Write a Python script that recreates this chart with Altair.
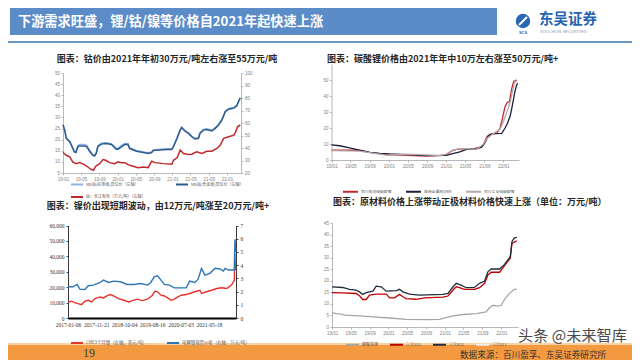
import altair as alt
import pandas as pd

W, H = 624, 352
SANS = "Liberation Sans"
CJK = "Noto Sans CJK SC"
SERIF = "Liberation Serif"

# ---------------- texts ----------------
HEADER = "下游需求旺盛，锂/钴/镍等价格自2021年起快速上涨"
LOGO_CN = "东吴证券"
LOGO_EN = "SOOCHOW SECURITIES"
TITLE_1 = "图表：钴价由2021年年初30万元/吨左右涨至55万元/吨"
TITLE_2 = "图表：碳酸锂价格由2021年年中10万左右涨至50万元/吨+"
TITLE_3 = "图表：镍价出现短期波动，由12万元/吨涨至20万元/吨+"
TITLE_4 = "图表：原材料价格上涨带动正极材料价格快速上涨（单位：万元/吨）"
PAGE_NO = "19"
SOURCE = "数据来源：百川盈孚、东吴证券研究所"
WATERMARK = "头条 @未来智库"

# ---------------- panel 1: cobalt ----------------
P1_NAMES = ["MB钴(标准级)高位价（左轴）", "MB钴(合金级)高位价（左轴）", "钴：长江有色（万元/吨）（右轴）"]
P1_COLORS = ["#8fb4e3", "#2f5a8e", "#c0282d"]
mb_dates = ["2019-01-01", "2019-01-12", "2019-01-23", "2019-02-15", "2019-02-26", "2019-03-18", "2019-03-29",
            "2019-04-10", "2019-04-21", "2019-05-24", "2019-06-10", "2019-06-27", "2019-07-19", "2019-07-31",
            "2019-08-11", "2019-08-22", "2019-09-14", "2019-10-17", "2019-11-20", "2019-12-23", "2020-01-04",
            "2020-01-26", "2020-02-18", "2020-03-10", "2020-03-21", "2020-05-06", "2020-06-20", "2020-07-23",
            "2020-08-15", "2020-08-26", "2020-10-10", "2020-11-24", "2020-12-28", "2021-01-08", "2021-02-01",
            "2021-02-22", "2021-03-04", "2021-03-25", "2021-04-18", "2021-05-10", "2021-06-01", "2021-06-24",
            "2021-07-04", "2021-07-27", "2021-08-18", "2021-09-21", "2021-10-14", "2021-11-05", "2021-11-28",
            "2021-12-20", "2022-01-12", "2022-02-15", "2022-03-07", "2022-03-19", "2022-03-30"]
mb_std = [26.9, 24.6, 20.9, 19.3, 17.8, 14.8, 14.6, 17.4, 17.8, 17.8, 17.3, 15.2, 13.4, 12.9, 14.2, 17.3, 18.4,
          18.6, 18.2, 16.1, 16.1, 17.4, 18.3, 18.3, 16.4, 15.1, 14.5, 14.1, 14.5, 15.4, 15.7, 15.9, 15.9, 17.1,
          20.9, 24.6, 25.7, 24.2, 23.1, 21.6, 20.6, 20.9, 23.1, 24.6, 24.9, 24.2, 25.4, 26.9, 29.2, 32.9, 34.0,
          34.5, 35.5, 37.5, 39.0]
mb_alloy = [26.6, 24.3, 20.6, 19.0, 17.5, 14.5, 14.2, 16.8, 17.2, 17.2, 16.8, 14.8, 13.0, 12.6, 13.8, 16.8, 18.0,
            18.3, 17.8, 15.7, 15.7, 16.8, 17.8, 17.8, 16.0, 14.8, 14.2, 13.8, 14.2, 15.1, 15.4, 15.6, 15.6, 16.8,
            20.6, 24.3, 25.4, 23.9, 22.8, 21.3, 20.3, 20.6, 22.8, 24.3, 24.6, 23.9, 25.1, 26.6, 28.9, 32.6, 33.7,
            34.2, 35.2, 37.2, 38.7]
cj_dates = ["2019-01-01", "2019-01-23", "2019-02-15", "2019-03-07", "2019-03-29", "2019-04-21", "2019-05-24",
            "2019-06-16", "2019-07-08", "2019-07-24", "2019-08-04", "2019-08-16", "2019-09-03", "2019-09-25",
            "2019-10-13", "2019-11-09", "2019-12-13", "2020-01-04", "2020-01-26", "2020-02-18", "2020-03-10",
            "2020-04-14", "2020-05-16", "2020-06-20", "2020-07-23", "2020-08-15", "2020-09-06", "2020-11-02",
            "2020-12-28", "2021-01-08", "2021-02-01", "2021-02-22", "2021-03-16", "2021-04-18", "2021-05-10",
            "2021-06-12", "2021-07-16", "2021-08-18", "2021-09-21", "2021-10-25", "2021-11-17", "2021-12-09",
            "2022-01-12", "2022-02-15", "2022-02-26", "2022-03-12", "2022-03-30"]
cj_vals = [36.4, 34.2, 32.9, 28.9, 27.5, 28.3, 26.7, 24.8, 23.0, 22.1, 24.8, 26.2, 27.5, 30.7, 30.2, 28.3, 27.5,
           28.9, 28.3, 28.3, 26.7, 25.4, 24.3, 24.8, 24.3, 29.4, 28.3, 27.5, 27.0, 30.2, 32.1, 38.3, 35.6, 34.8,
           35.0, 36.9, 35.6, 37.4, 37.4, 39.6, 42.3, 47.7, 49.0, 50.3, 52.5, 57.0, 58.4]
P1_LEFT_TICKS = [5, 10, 15, 20, 25, 30, 35, 40, 45, 50]
P1_RIGHT_TICKS = [20, 30, 40, 50, 60, 70, 80, 90, 100]
MONTH_TICKS = ["2019-01-01", "2019-05-01", "2019-09-01", "2020-01-01", "2020-05-01", "2020-09-01",
               "2021-01-01", "2021-05-01", "2021-09-01", "2022-01-01"]

# ---------------- panel 2: lithium carbonate ----------------
P2_NAMES = ["百川电池级碳酸锂", "亚洲金属网SMM", "百川工业级碳酸锂"]
P2_COLORS = ["#c0282d", "#1c1f3c", "#b3a9ad"]
li_bat_dates = ["2019-01-01", "2019-06-29", "2019-09-02", "2019-12-17", "2020-04-23", "2020-08-29", "2020-11-23",
                "2021-01-01", "2021-02-06", "2021-03-08", "2021-04-20", "2021-06-23", "2021-08-04", "2021-08-26",
                "2021-09-16", "2021-10-07", "2021-11-19", "2021-12-10", "2021-12-27", "2022-01-11", "2022-01-26",
                "2022-02-08", "2022-02-23", "2022-03-08", "2022-03-29"]
li_bat_vals = [6.1, 6.1, 4.8, 3.4, 2.9, 2.5, 2.9, 3.4, 5.7, 6.7, 7.0, 7.0, 8.0, 9.5, 14.3, 16.2, 16.7, 20.0,
               26.6, 33.3, 36.1, 36.5, 44.7, 49.4, 50.0]
li_smm_dates = ["2019-01-01", "2019-02-23", "2019-04-26", "2019-06-29", "2019-09-02", "2019-11-05", "2020-01-08",
                "2020-04-23", "2020-07-17", "2020-10-11", "2021-01-01", "2021-02-06", "2021-03-29", "2021-05-11",
                "2021-07-14", "2021-08-15", "2021-09-06", "2021-09-27", "2021-10-29", "2021-12-21", "2022-01-11",
                "2022-01-26", "2022-02-13", "2022-02-23", "2022-03-04", "2022-03-15", "2022-03-25", "2022-04-01"]
li_smm_vals = [9.5, 8.9, 7.6, 6.1, 4.8, 4.2, 3.8, 3.4, 2.9, 2.7, 2.9, 3.8, 5.1, 6.7, 7.0, 8.0, 11.0, 15.2, 16.5,
               16.7, 20.0, 22.8, 27.6, 32.3, 37.0, 42.8, 46.6, 47.9]
li_ind_dates = ["2019-01-01", "2019-06-29", "2019-09-02", "2019-12-17", "2020-04-23", "2020-07-17", "2020-11-23",
                "2021-01-01", "2021-02-16", "2021-04-20", "2021-07-14", "2021-08-26", "2021-09-16", "2021-10-29",
                "2021-12-10", "2021-12-31", "2022-01-21", "2022-02-13", "2022-03-01", "2022-03-15", "2022-03-25"]
li_ind_vals = [5.8, 5.6, 4.6, 3.0, 3.6, 3.3, 2.8, 3.6, 6.3, 7.2, 6.7, 9.9, 13.3, 16.5, 19.4, 23.8, 29.5, 36.1,
               43.7, 49.4, 48.5]
P2_TICKS = [0, 10, 20, 30, 40, 50]

# ---------------- panel 3: nickel ----------------
P3_NAMES = ["LME3个月镍（左轴，美元/吨）", "电解镍现货价格（右轴，万元/吨）"]
P3_COLORS = ["#e8322b", "#2e75b6"]
lme_dates = ["2017-01-06", "2017-02-13", "2017-03-23", "2017-06-08", "2017-07-16", "2017-08-23", "2017-09-30",
             "2017-11-08", "2018-01-04", "2018-02-11", "2018-03-21", "2018-04-29", "2018-06-06", "2018-08-02",
             "2018-09-28", "2018-11-25", "2019-01-02", "2019-02-28", "2019-04-26", "2019-06-23", "2019-08-19",
             "2019-09-15", "2019-10-15", "2019-11-23", "2019-12-31", "2020-02-07", "2020-03-16", "2020-04-23",
             "2020-06-01", "2020-07-09", "2020-09-04", "2020-10-12", "2020-12-09", "2021-02-04", "2021-02-23",
             "2021-04-21", "2021-06-18", "2021-08-14", "2021-10-10", "2021-12-06", "2022-02-02", "2022-03-01",
             "2022-03-07", "2022-03-09", "2022-03-16"]
lme_vals = [10000, 10900, 10000, 8700, 10900, 11500, 10400, 12600, 13700, 13000, 14300, 15200, 14300, 12600,
            11500, 10400, 11300, 12200, 11300, 12200, 14800, 17400, 17000, 14800, 14300, 13000, 11500, 12200,
            13700, 14800, 15200, 15900, 17000, 18000, 15900, 17000, 18000, 19100, 19600, 19100, 21700, 24600,
            42000, 38000, 31000]
spot_dates = ["2017-01-06", "2017-03-04", "2017-04-19", "2017-05-20", "2017-07-16", "2017-08-23", "2017-10-20",
              "2018-01-04", "2018-02-11", "2018-04-09", "2018-06-06", "2018-08-21", "2018-11-06", "2019-01-21",
              "2019-04-07", "2019-06-23", "2019-07-31", "2019-09-07", "2019-10-15", "2019-11-23", "2019-12-31",
              "2020-02-26", "2020-04-23", "2020-07-09", "2020-09-04", "2020-10-12", "2020-12-09", "2021-01-16",
              "2021-02-23", "2021-04-02", "2021-05-29", "2021-07-26", "2021-09-21", "2021-10-29", "2021-11-17",
              "2021-12-26", "2022-03-01", "2022-03-07", "2022-03-09", "2022-03-16"]
spot_vals = [2.36, 2.36, 2.54, 2.18, 2.16, 2.44, 2.49, 2.69, 2.87, 2.69, 2.79, 2.74, 2.54, 2.54, 2.61, 2.49,
             2.69, 3.12, 3.20, 2.87, 2.54, 2.49, 2.28, 2.28, 2.28, 2.79, 2.69, 2.94, 3.76, 3.25, 3.38, 3.76, 3.71,
             3.55, 3.76, 3.63, 3.63, 5.79, 5.96, 5.00]
P3_DATE_TICKS = ["2017-01-06", "2017-11-21", "2018-10-04", "2019-08-16", "2020-07-03", "2021-05-18"]
P3_LEFT_TICKS = [0, 10000, 20000, 30000, 40000, 50000, 60000]
P3_RIGHT_TICKS = [0, 1, 2, 3, 4, 5, 6, 7]

# ---------------- panel 4: cathode materials ----------------
P4_NAMES = ["磷酸铁锂", "三元523", "三元622", "三元811"]
P4_COLORS = ["#a6a6a6", "#c00000", "#1f2d3d", "#ededed"]
lfp_dates = ["2019-01-01", "2019-01-29", "2019-03-11", "2019-03-22", "2019-06-28", "2019-09-23", "2020-01-09",
             "2020-04-25", "2020-09-03", "2020-11-28", "2021-01-01", "2021-02-23", "2021-04-27", "2021-07-22",
             "2021-09-25", "2021-10-16", "2021-11-08", "2021-12-10", "2022-01-01", "2022-01-22", "2022-02-14",
             "2022-03-05", "2022-03-26", "2022-04-11"]
lfp_vals = [6.2, 5.8, 5.5, 5.1, 4.8, 4.4, 3.9, 3.3, 3.2, 3.3, 3.9, 4.8, 5.4, 5.8, 6.5, 8.3, 9.4, 9.0, 9.4, 12.0,
            13.8, 15.2, 16.3, 16.4]
n523_dates = ["2019-01-01", "2019-03-11", "2019-06-06", "2019-06-28", "2019-07-19", "2019-08-10", "2019-09-01",
              "2019-10-14", "2019-12-18", "2020-01-09", "2020-02-10", "2020-03-13", "2020-04-04", "2020-04-25",
              "2020-06-29", "2020-08-22", "2020-12-19", "2021-01-21", "2021-02-23", "2021-03-15", "2021-04-05",
              "2021-05-07", "2021-07-11", "2021-08-13", "2021-09-15", "2021-10-06", "2021-10-28", "2021-12-21",
              "2022-01-12", "2022-02-14", "2022-02-28", "2022-03-11", "2022-03-26", "2022-04-11"]
n523_vals = [14.9, 14.8, 14.5, 13.5, 11.9, 11.9, 13.8, 14.2, 14.2, 12.6, 12.6, 14.1, 13.1, 12.3, 12.0, 12.6, 12.9,
             13.4, 16.0, 17.4, 17.0, 16.3, 16.3, 17.0, 18.9, 22.5, 23.7, 23.7, 25.7, 28.6, 29.8, 36.3, 36.7, 37.3]
n622_dates = ["2019-01-01", "2019-03-11", "2019-04-24", "2019-06-06", "2019-06-28", "2019-07-19", "2019-08-10",
              "2019-09-23", "2019-10-14", "2019-11-16", "2019-12-18", "2020-02-21", "2020-03-13", "2020-04-04",
              "2020-05-16", "2020-07-20", "2020-12-19", "2021-01-21", "2021-02-23", "2021-03-15", "2021-04-16",
              "2021-05-19", "2021-07-11", "2021-08-13", "2021-09-15", "2021-10-06", "2021-10-28", "2021-12-21",
              "2022-01-22", "2022-02-28", "2022-03-11", "2022-03-26", "2022-04-11"]
n622_vals = [17.4, 17.1, 16.3, 16.0, 15.2, 14.1, 14.9, 15.5, 17.7, 17.4, 15.5, 15.7, 16.3, 15.2, 14.2, 13.8, 14.1,
             14.5, 17.4, 18.9, 18.1, 17.0, 17.1, 18.9, 19.9, 23.9, 25.1, 25.1, 27.1, 30.5, 37.0, 38.5, 38.8]
P4_TICKS = [0, 5, 10, 15, 20, 25, 30, 35, 40, 45]


# ---------------- helpers ----------------
def dt(s):
    y, m, d = (int(v) for v in s.split("-"))
    return alt.DateTime(year=y, month=m, date=d)


def one():
    return pd.DataFrame({"t": [""]})


def text(s, x, y, size, color, weight="normal", font=CJK, align="left", opacity=1.0):
    return alt.Chart(pd.DataFrame({"t": [s]})).mark_text(
        align=align, baseline="middle", fontSize=size, font=font, fontWeight=weight,
        color=color, opacity=opacity).encode(text=alt.Text("t:N"), x=alt.value(x), y=alt.value(y))


def rect(x, x2, y, y2, color):
    return alt.Chart(one()).mark_rect(color=color).encode(
        x=alt.value(x), x2=alt.value(x2), y=alt.value(y), y2=alt.value(y2))


def series(names, date_lists, value_lists):
    rows = []
    for n, ds, vs in zip(names, date_lists, value_lists):
        rows.append(pd.DataFrame({"date": ds, "value": vs, "series": n}))
    return pd.concat(rows, ignore_index=True)


XLS = dict(grid=False, title=None, domainColor="#a6a6a6", domainWidth=0.8, tickColor="#a6a6a6",
           tickWidth=0.8, tickSize=2, labelColor="#7f7f7f", labelFont=SANS, labelFontSize=4.5,
           labelPadding=1.5, labelOverlap=False, labelFlush=False)
SER = dict(grid=False, title=None, domainColor="#222222", domainWidth=0.9, tickColor="#222222",
           tickWidth=0.8, tickSize=2, labelColor="#333333", labelFont=SERIF, labelFontSize=5.5,
           labelPadding=2, labelOverlap=False, labelFlush=False)


def legend(x, y, cols=None, sym=144, size=4.2, colpad=6):
    kw = dict(orient="none", legendX=x, legendY=y, direction="horizontal", title=None,
              symbolType="stroke", symbolStrokeWidth=2, symbolSize=sym, labelFont=CJK,
              labelFontSize=size, labelColor="#595959", labelOffset=2, columnPadding=colpad,
              rowPadding=1.5, padding=0)
    if cols:
        kw["columns"] = cols
    return alt.Legend(**kw)


# ---------------- header ----------------
header = [
    rect(2, 489, 0, 27, "#5b8cc8"),
    text(HEADER, 10, 13.5, 13.2, "white", weight="bold"),
    alt.Chart(one()).mark_point(filled=True, shape="circle", size=210, color="#2767b5", opacity=1).encode(
        x=alt.value(515), y=alt.value(13)),
    alt.Chart(one()).mark_rule(color="white", strokeWidth=2).encode(
        x=alt.value(511), x2=alt.value(519), y=alt.value(17), y2=alt.value(9)),
    text("SCS", 515, 24.5, 4, "#2767b5", weight="bold", font=SANS, align="center"),
    text(LOGO_CN, 531, 12, 14.5, "#2464b2", weight="bold"),
    text(LOGO_EN, 532, 23.5, 4, "#8a9ab5", font=SANS),
    alt.Chart(one()).mark_rule(color="#3a72b8", strokeWidth=1.5).encode(
        x=alt.value(0), x2=alt.value(W), y=alt.value(34)),
]

# ---------------- panel 1 ----------------
P1X = (55, 233)
P1Y = (165, 65)
p1_xscale = alt.Scale(domain=[dt("2019-01-01"), dt("2022-04-04")], range=list(P1X), nice=False)
df_mb = series(P1_NAMES[:2], [mb_dates, mb_dates], [mb_std, mb_alloy])
df_cj = pd.DataFrame({"date": cj_dates, "value": cj_vals})
p1_left = alt.Chart(df_mb).mark_line(strokeWidth=1.5).encode(
    x=alt.X("date:T", scale=p1_xscale,
            axis=alt.Axis(orient="bottom", offset=P1Y[0] - H, format="%y-%m",
                          values=[dt(d) for d in MONTH_TICKS], **XLS)),
    y=alt.Y("value:Q", scale=alt.Scale(domain=[5, 50], range=list(P1Y), nice=False, zero=False),
            axis=alt.Axis(orient="left", offset=-P1X[0], values=P1_LEFT_TICKS, **XLS)),
    color=alt.Color("series:N", scale=alt.Scale(domain=P1_NAMES, range=P1_COLORS), sort=None,
                    legend=legend(62, 169.5, cols=2, colpad=26, size=4.0)),
)
p1_right = alt.Chart(df_cj).mark_line(strokeWidth=1.5, color=P1_COLORS[2]).encode(
    x=alt.X("date:T", scale=p1_xscale, axis=None),
    y=alt.Y("value:Q", scale=alt.Scale(domain=[20, 100], range=list(P1Y), nice=False, zero=False),
            axis=alt.Axis(orient="right", offset=P1X[1] - W, values=P1_RIGHT_TICKS, **XLS)),
)

# ---------------- panel 2 ----------------
P2X = (323.5, 511)
P2Y = (152, 56)
df_li = series(P2_NAMES, [li_bat_dates, li_smm_dates, li_ind_dates], [li_bat_vals, li_smm_vals, li_ind_vals])
p2 = alt.Chart(df_li).mark_line(strokeWidth=1.3).encode(
    x=alt.X("date:T", scale=alt.Scale(domain=[dt("2019-01-01"), dt("2022-04-10")], range=list(P2X), nice=False),
            axis=alt.Axis(orient="bottom", offset=P2Y[0] - H, format="%y/%m",
                          values=[dt(d) for d in MONTH_TICKS], **XLS)),
    y=alt.Y("value:Q", scale=alt.Scale(domain=[0, 60], range=list(P2Y), nice=False),
            axis=alt.Axis(orient="left", offset=-P2X[0], values=P2_TICKS, **XLS)),
    color=alt.Color("series:N", scale=alt.Scale(domain=P2_NAMES, range=P2_COLORS), sort=None,
                    legend=legend(334, 175, sym=225, size=3.8, colpad=10)),
)

# ---------------- panel 3 ----------------
P3X = (60, 228)
P3Y = (310, 217.5)
p3_xscale = alt.Scale(domain=[dt("2017-01-06"), dt("2022-03-20")], range=list(P3X), nice=False)
df_lme = pd.DataFrame({"date": lme_dates, "value": lme_vals, "series": P3_NAMES[0]})
df_spot = pd.DataFrame({"date": spot_dates, "value": spot_vals})
p3_left = alt.Chart(df_lme).mark_line(strokeWidth=1.4).encode(
    x=alt.X("date:T", scale=p3_xscale,
            axis=alt.Axis(orient="bottom", offset=P3Y[0] - H, format="%Y-%m-%d",
                          values=[dt(d) for d in P3_DATE_TICKS], **{**SER, "domainWidth": 2.2,
                                                                    "domainColor": "#000000",
                                                                    "ticks": False, "labelPadding": 4})),
    y=alt.Y("value:Q", scale=alt.Scale(domain=[0, 60000], range=list(P3Y), nice=False),
            axis=alt.Axis(orient="left", offset=-P3X[0], values=P3_LEFT_TICKS, format=",d", **SER)),
    color=alt.Color("series:N", scale=alt.Scale(domain=P3_NAMES, range=P3_COLORS), sort=None,
                    legend=legend(62, 328, sym=144, size=4.4, colpad=16)),
)
p3_right = alt.Chart(df_spot).mark_line(strokeWidth=1.4, color=P3_COLORS[1]).encode(
    x=alt.X("date:T", scale=p3_xscale, axis=None),
    y=alt.Y("value:Q", scale=alt.Scale(domain=[0, 7], range=list(P3Y), nice=False),
            axis=alt.Axis(orient="right", offset=P3X[1] - W, values=P3_RIGHT_TICKS, **SER)),
)

# ---------------- panel 4 ----------------
P4X = (324, 510)
P4Y = (319, 215)
df_cat = series(P4_NAMES[:3], [lfp_dates, n523_dates, n622_dates], [lfp_vals, n523_vals, n622_vals])
p4 = alt.Chart(df_cat).mark_line(strokeWidth=1.3).encode(
    x=alt.X("date:T", scale=alt.Scale(domain=[dt("2019-01-01"), dt("2022-04-19")], range=list(P4X), nice=False),
            axis=alt.Axis(orient="bottom", offset=P4Y[0] - H, format="%y/%m",
                          values=[dt(d) for d in MONTH_TICKS], **XLS)),
    y=alt.Y("value:Q", scale=alt.Scale(domain=[0, 45], range=list(P4Y), nice=False),
            axis=alt.Axis(orient="left", offset=-P4X[0], values=P4_TICKS, **XLS)),
    color=alt.Color("series:N", scale=alt.Scale(domain=P4_NAMES, range=P4_COLORS), sort=None,
                    legend=legend(337, 329, sym=169, size=4.0, colpad=8)),
)

# ---------------- titles & footer ----------------
titles = [
    text(TITLE_1, 159, 50.5, 9, "#262626", weight="bold", align="center"),
    text(TITLE_2, 319, 50.5, 9, "#262626", weight="bold"),
    text(TITLE_3, 150, 197.5, 9, "#262626", weight="bold", align="center"),
    text(TITLE_4, 325, 193.5, 9, "#262626", weight="bold"),
]
footer = [
    rect(0, W, 335, 337, "#f9d2a6"),
    rect(0, W, 337, H, "#f39a40"),
    text(PAGE_NO, 75, 344.5, 12, "#3a3a3a", font=SERIF),
    text(SOURCE, 452, 347, 8.6, "#333333"),
    text(WATERMARK, 510, 328, 15.2, "#4a4a4a"),
]

chart = alt.layer(
    *header, *titles,
    p1_left, p1_right, p2, p3_left, p3_right, p4,
    *footer,
).resolve_scale(
    x="independent", y="independent", color="independent"
).properties(
    width=W, height=H, padding=0, background="white",
    autosize=alt.AutoSizeParams(type="none"),
).configure_view(stroke=None)

chart.save("out.html", embed_options={"renderer": "svg", "actions": False})
